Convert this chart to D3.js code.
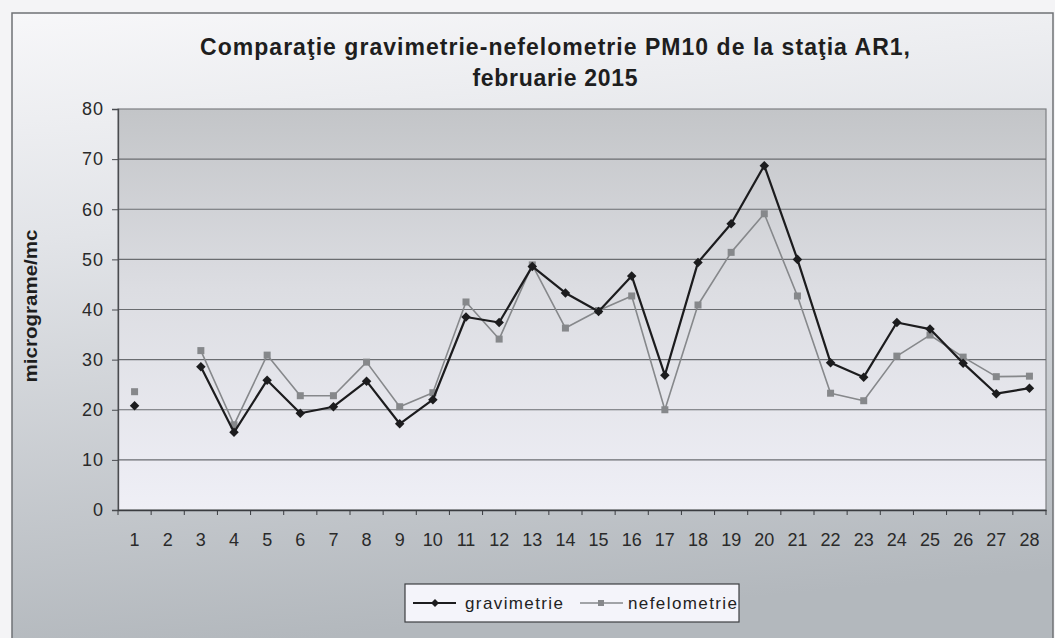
<!DOCTYPE html>
<html>
<head>
<meta charset="utf-8">
<script src="https://cdn.jsdelivr.net/npm/d3@7"></script>
<style>
  html, body { margin: 0; padding: 0; background: #ffffff; }
  svg { display: block; }
  text { font-family: "Liberation Sans", Arial, sans-serif; }
</style>
</head>
<body>
<svg id="chart" width="1055" height="638"></svg>
<script>
// ---- data ----
const days = ["1","2","3","4","5","6","7","8","9","10","11","12","13","14","15","16","17","18","19","20","21","22","23","24","25","26","27","28"];
const gravimetrie = [20.8, null, 28.6, 15.5, 25.9, 19.3, 20.6, 25.7, 17.2, 22.0, 38.5, 37.4, 48.6, 43.3, 39.6, 46.7, 26.9, 49.4, 57.1, 68.7, 50.0, 29.4, 26.5, 37.4, 36.1, 29.3, 23.2, 24.3];
const nefelometrie = [23.6, null, 31.8, 17.0, 30.9, 22.8, 22.8, 29.5, 20.6, 23.4, 41.5, 34.1, 48.9, 36.3, 39.8, 42.7, 20.0, 40.9, 51.4, 59.1, 42.7, 23.3, 21.8, 30.7, 34.9, 30.5, 26.6, 26.7];
const yTicks = [0, 10, 20, 30, 40, 50, 60, 70, 80];
const seriesNames = ["gravimetrie", "nefelometrie"];
const titleLines = ["Comparaţie gravimetrie-nefelometrie PM10 de la staţia AR1,", "februarie 2015"];
const yLabel = "micrograme/mc";

// ---- layout ----
const W = 1055, H = 638;
const plot = { left: 118, right: 1046, top: 109, bottom: 510 };

const svg = d3.select("#chart");
const defs = svg.append("defs");

const outerGrad = defs.append("linearGradient").attr("id", "outerGrad")
  .attr("x1", 0).attr("y1", 0).attr("x2", 0.15).attr("y2", 1);
outerGrad.append("stop").attr("offset", "0%").attr("stop-color", "#f7f7f9");
outerGrad.append("stop").attr("offset", "35%").attr("stop-color", "#e2e4e8");
outerGrad.append("stop").attr("offset", "100%").attr("stop-color", "#b3b8bd");

const plotGrad = defs.append("linearGradient").attr("id", "plotGrad")
  .attr("x1", 0).attr("y1", 0).attr("x2", 0).attr("y2", 1);
plotGrad.append("stop").attr("offset", "0%").attr("stop-color", "#c3c5c8");
plotGrad.append("stop").attr("offset", "45%").attr("stop-color", "#dcdde2");
plotGrad.append("stop").attr("offset", "100%").attr("stop-color", "#efeff6");

// page background & chart frame
svg.append("rect").attr("x", 0).attr("y", 0).attr("width", W).attr("height", H).attr("fill", "#f4f4f6");
svg.append("rect").attr("x", 12).attr("y", 13).attr("width", W - 14).attr("height", H)
  .attr("fill", "url(#outerGrad)").attr("stroke", "#6f7275").attr("stroke-width", 1.5);

// title
const titleSpec = [
  { y: 55, len: 710 },
  { y: 86, len: 165 }
];
titleLines.forEach((t, i) => {
  svg.append("text").attr("x", 555).attr("y", titleSpec[i].y)
    .attr("text-anchor", "middle").attr("font-weight", "bold").attr("font-size", 23)
    .attr("fill", "#1e1e1e")
    .attr("textLength", titleSpec[i].len).attr("lengthAdjust", "spacing")
    .text(t);
});

// scales
const x = d3.scaleBand().domain(days).range([plot.left, plot.right]).padding(0);
const y = d3.scaleLinear().domain([0, 80]).range([plot.bottom, plot.top]);

// plot area
svg.append("rect").attr("x", plot.left).attr("y", plot.top)
  .attr("width", plot.right - plot.left).attr("height", plot.bottom - plot.top)
  .attr("fill", "url(#plotGrad)").attr("stroke", "#7d7f82").attr("stroke-width", 1.2);

// gridlines
svg.append("g").selectAll("line").data(yTicks.filter(v => v > 0 && v < 80)).join("line")
  .attr("x1", plot.left).attr("x2", plot.right)
  .attr("y1", d => y(d)).attr("y2", d => y(d))
  .attr("stroke", "#6a6c70").attr("stroke-width", 1.1);

// y axis
const yAxis = svg.append("g").attr("transform", `translate(${plot.left},0)`)
  .call(d3.axisLeft(y).tickValues(yTicks).tickSize(6).tickPadding(8));
yAxis.select(".domain").attr("stroke", "#4a4c50").attr("stroke-width", 1.3);
yAxis.selectAll(".tick line").attr("stroke", "#4a4c50");
yAxis.selectAll(".tick text").attr("font-size", 18).attr("fill", "#2a2a2a")
  .attr("letter-spacing", 1)
  .attr("font-family", "Liberation Sans, Arial, sans-serif");

// x axis
const xAxis = svg.append("g").attr("transform", `translate(0,${plot.bottom})`)
  .call(d3.axisBottom(x).tickSize(0).tickPadding(23));
xAxis.select(".domain").attr("stroke", "#3a3c40").attr("stroke-width", 1.5);
xAxis.selectAll(".tick text").attr("font-size", 18).attr("fill", "#2a2a2a")
  .attr("font-family", "Liberation Sans, Arial, sans-serif");
// category boundary ticks
svg.append("g").selectAll("line").data(days.concat(["end"])).join("line")
  .attr("x1", (d, i) => i < days.length ? x(d) : plot.right)
  .attr("x2", (d, i) => i < days.length ? x(d) : plot.right)
  .attr("y1", plot.bottom).attr("y2", plot.bottom + 5)
  .attr("stroke", "#3a3c40").attr("stroke-width", 1);

// y label
svg.append("text").attr("transform", `translate(37,306) rotate(-90)`)
  .attr("text-anchor", "middle").attr("font-weight", "bold").attr("font-size", 18)
  .attr("fill", "#1e1e1e").attr("textLength", 153).attr("lengthAdjust", "spacingAndGlyphs")
  .text(yLabel);

// series
const cx = d => x(d) + x.bandwidth() / 2;
const series = [
  { name: seriesNames[0], values: gravimetrie, color: "#1c1c1e", width: 2.2, marker: "diamond", size: 8 },
  { name: seriesNames[1], values: nefelometrie, color: "#86888b", width: 1.6, marker: "square", size: 7 }
];
const lineGen = d3.line().defined(d => d.v != null).x(d => cx(d.day)).y(d => y(d.v));

// draw nefelometrie first, then gravimetrie on top
[series[1], series[0]].forEach(s => {
  const pts = days.map((day, i) => ({ day, v: s.values[i] }));
  svg.append("path").datum(pts).attr("d", lineGen)
    .attr("fill", "none").attr("stroke", s.color).attr("stroke-width", s.width)
    .attr("stroke-linejoin", "round");
  const valid = pts.filter(p => p.v != null);
  if (s.marker === "diamond") {
    svg.append("g").selectAll("path").data(valid).join("path")
      .attr("d", d3.symbol().type(d3.symbolDiamond2 || d3.symbolDiamond).size(s.size * s.size * 0.9))
      .attr("transform", d => `translate(${cx(d.day)},${y(d.v)})`)
      .attr("fill", s.color);
  } else {
    svg.append("g").selectAll("rect").data(valid).join("rect")
      .attr("x", d => cx(d.day) - s.size / 2).attr("y", d => y(d.v) - s.size / 2)
      .attr("width", s.size).attr("height", s.size).attr("fill", s.color);
  }
});

// legend
const lg = svg.append("g");
lg.append("rect").attr("x", 405).attr("y", 584).attr("width", 334).attr("height", 38)
  .attr("fill", "#f4f4fa").attr("stroke", "#3c3e42").attr("stroke-width", 1.2);
const legendItems = [
  { s: series[0], x0: 413, tx: 465, len: 98 },
  { s: series[1], x0: 580, tx: 628, len: 109 }
];
legendItems.forEach(it => {
  const ly = 603;
  lg.append("line").attr("x1", it.x0).attr("x2", it.x0 + 43).attr("y1", ly).attr("y2", ly)
    .attr("stroke", it.s.color).attr("stroke-width", it.s.width);
  if (it.s.marker === "diamond") {
    lg.append("path").attr("d", d3.symbol().type(d3.symbolDiamond2 || d3.symbolDiamond).size(40))
      .attr("transform", `translate(${it.x0 + 22},${ly})`).attr("fill", it.s.color);
  } else {
    lg.append("rect").attr("x", it.x0 + 21 - 3).attr("y", ly - 3).attr("width", 6).attr("height", 6)
      .attr("fill", it.s.color);
  }
  lg.append("text").attr("x", it.tx).attr("y", ly + 6).attr("font-size", 17)
    .attr("fill", "#222").attr("textLength", it.len).attr("lengthAdjust", "spacing")
    .text(it.s.name);
});
</script>
</body>
</html>
